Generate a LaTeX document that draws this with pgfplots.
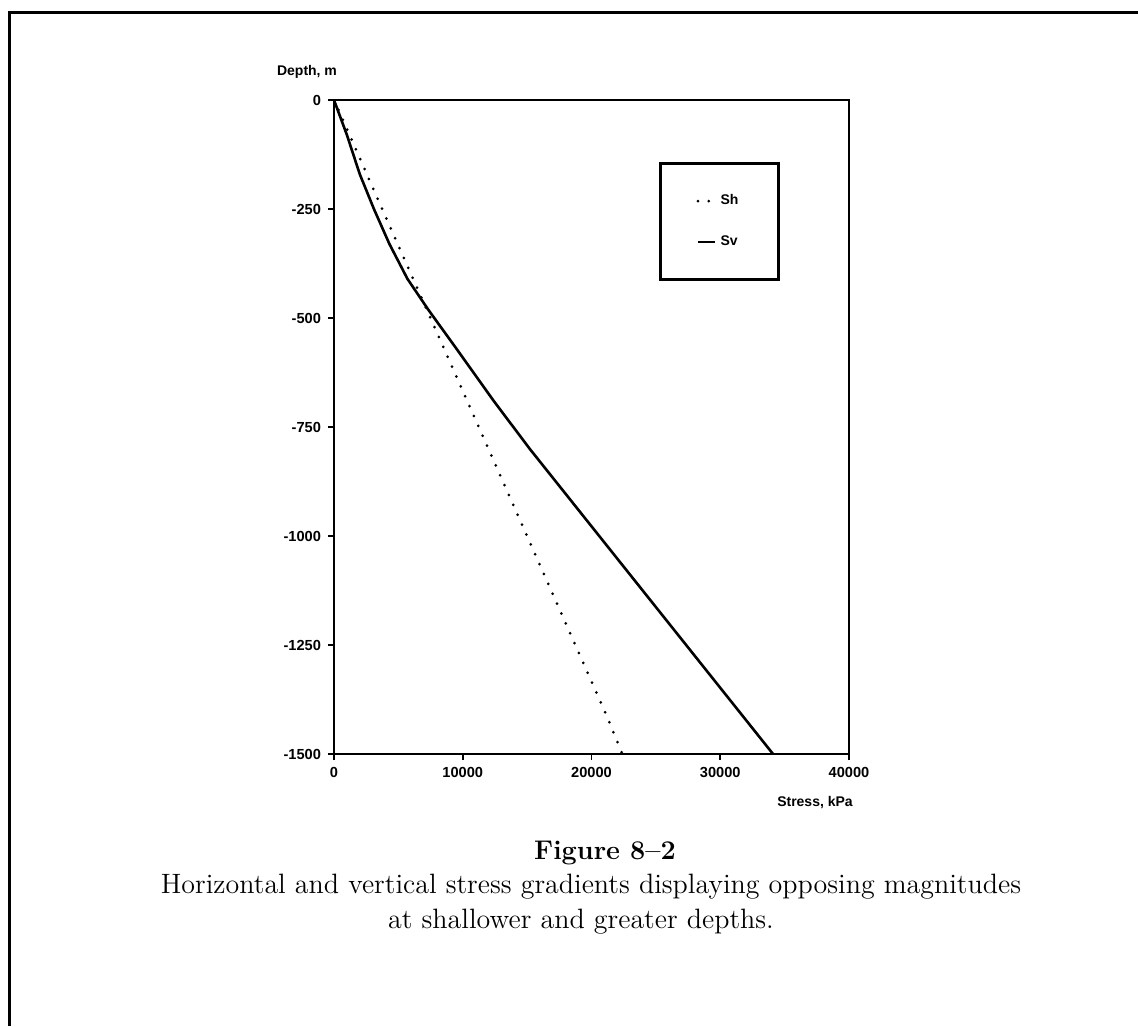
\documentclass[border=0pt]{standalone}
\usepackage{fontspec}
\usepackage{pgfplots}
\pgfplotsset{compat=1.18}
\setsansfont{Liberation Sans}
\begin{document}
\begin{tikzpicture}
\begin{scope}[x=0.5pt,y=-0.5pt]
\path[use as bounding box] (0,0) rectangle (1138,1026);
\draw[line width=1.5pt] (9,1026) -- (9,13) -- (1138,13);
\end{scope}
\begin{axis}[
  at={(167pt,-377pt)}, anchor=south west,
  scale only axis, width=257.5pt, height=327pt,
  xmin=0, xmax=40000, ymin=-1500, ymax=0,
  scaled x ticks=false, scaled y ticks=false,
  axis line style={line width=1.3pt},
  tick style={line width=0.9pt, black},
  tick align=outside, major tick length=3pt,
  xtick pos=bottom, ytick pos=left,
  xtick={0,10000,20000,30000,40000},
  xticklabels={0,10000,20000,30000,40000},
  ytick={-1500,-1250,-1000,-750,-500,-250,0},
  yticklabels={-1500,-1250,-1000,-750,-500,-250,0},
  ticklabel style={font=\sffamily\bfseries\fontsize{7.3}{8}\selectfont},
  legend style={at={(0.631,0.905)}, anchor=north west, draw=black, line width=1.5pt,
    font=\sffamily\bfseries\fontsize{7}{8}\selectfont,
    inner xsep=18pt, inner ysep=13.5pt, row sep=10pt},
  legend cell align=left,
  legend image code/.code={\draw[#1] (0cm,0cm) -- (0.3cm,0cm);},
]
\addplot[black, line width=1.5pt, line cap=round, dash pattern=on 0pt off 5.4pt] coordinates {
(0,0) (1500,-100) (3000,-200) (3750,-250) (4500,-300) (6000,-400) (7500,-500)
(9000,-600) (10500,-700) (11250,-750) (12000,-800) (13500,-900) (15000,-1000)
(16500,-1100) (18000,-1200) (18750,-1250) (19500,-1300) (21000,-1400) (22400,-1500)
};
\addlegendentry{Sh}
\addplot[black, line width=1.3pt] coordinates {
(0,0) (1000,-80) (2000,-170) (3100,-250) (4300,-330) (5700,-410) (7300,-480)
(9500,-570) (12400,-690) (15200,-800) (20600,-1000) (26000,-1200) (34100,-1500)
};
\addlegendentry{Sv}
\end{axis}
\begin{scope}[x=0.5pt,y=-0.5pt]
\node[font=\sffamily\bfseries\fontsize{7}{8}\selectfont] at (307,72) {Depth, m};
\node[font=\sffamily\bfseries\fontsize{7}{8}\selectfont] at (815,803) {Stress, kPa};
\node[font=\bfseries\fontsize{13.5}{16}\selectfont] at (605,853) {Figure 8--2};
\node[font=\fontsize{14}{16}\selectfont] at (591,887) {Horizontal and vertical stress gradients displaying opposing magnitudes};
\node[font=\fontsize{14}{16}\selectfont] at (581,922) {at shallower and greater depths.};
\end{scope}
\end{tikzpicture}
\end{document}
